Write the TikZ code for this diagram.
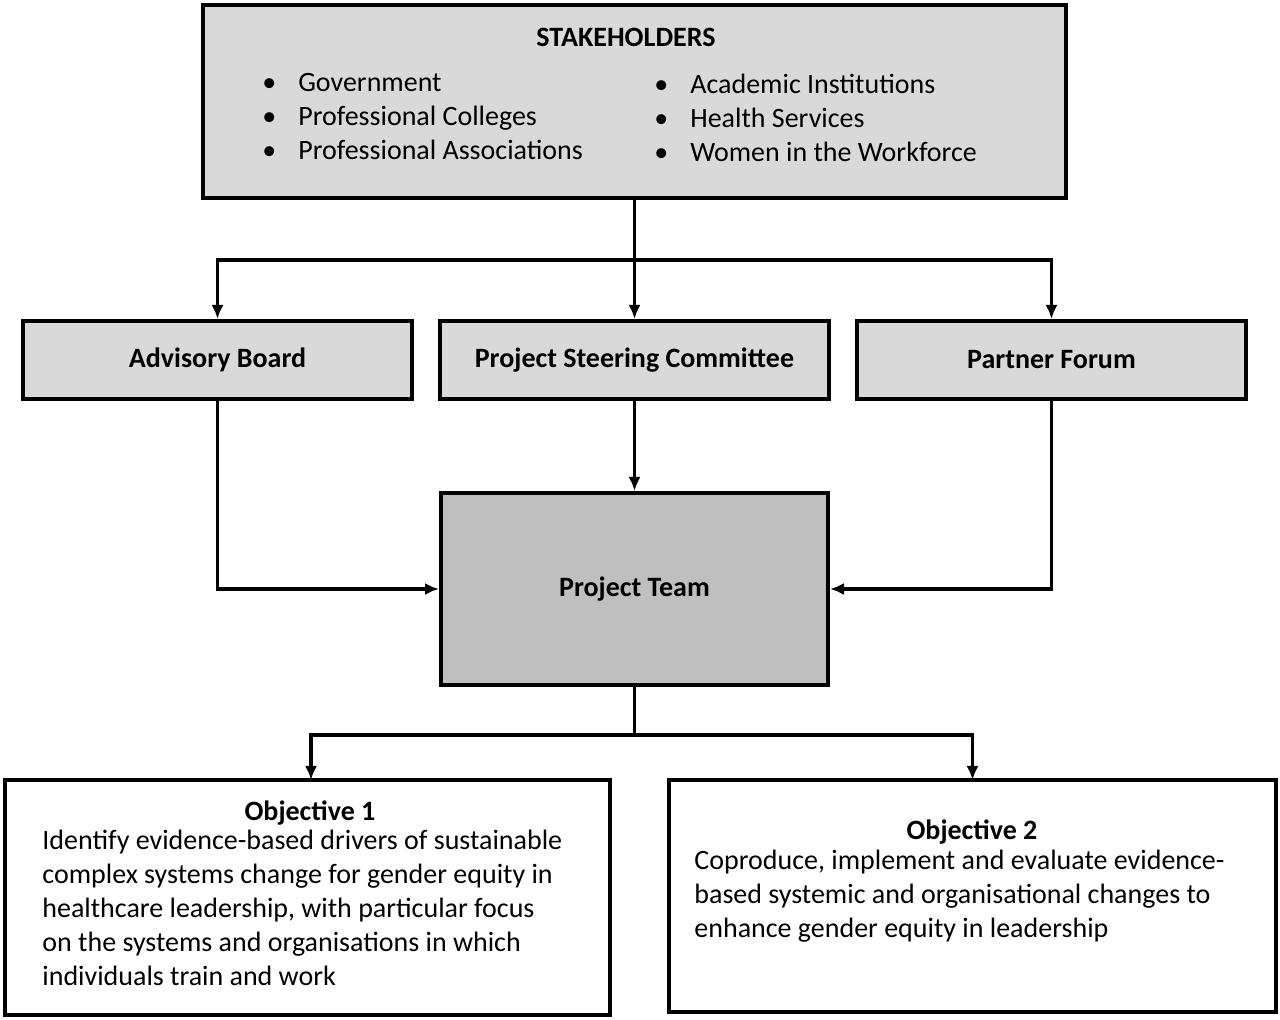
\documentclass[tikz,border=0pt]{standalone}
\usepackage{fontspec}
\setmainfont{Carlito}
\usetikzlibrary{arrows.meta}
\usetikzlibrary{positioning}
\definecolor{boxgray}{HTML}{D9D9D9}
\definecolor{teamgray}{HTML}{BFBFBF}
\begin{document}
\begin{tikzpicture}[
      x = 0.5pt, y = -0.5pt,
      >={Latex[length=7pt,width=6pt]},
      font = \fontsize{14}{17}\selectfont,
      box/.style = {
        draw = black, line width = 2pt, inner sep = 0pt
      },
      head/.style = { font = \fontsize{14}{17}\selectfont\bfseries },
      link/.style = { draw = black, line width = 1.8pt },
    ]
    \useasboundingbox (0,0) rectangle (1280,1020);

    % boxes
    \node[box, fill = boxgray, minimum width = 431.5pt, minimum height = 96.5pt] (stake) at (634.5,101.5) {};
    \node[box, fill = boxgray, minimum width = 194.5pt, minimum height = 39pt] (adv) at (217.5,360) {};
    \node[box, fill = boxgray, minimum width = 194.5pt, minimum height = 39pt] (psc) at (634.5,360) {};
    \node[box, fill = boxgray, minimum width = 194.5pt, minimum height = 39pt] (pf) at (1051.5,360) {};
    \node[box, fill = teamgray, minimum width = 193.5pt, minimum height = 96pt] (team) at (634.5,589) {};
    \node[box, fill = white, minimum width = 302.5pt, minimum height = 117.5pt] (obj1) at (307.5,897.5) {};
    \node[box, fill = white, minimum width = 303.5pt, minimum height = 116pt] (obj2) at (972.5,896) {};

    % texts
    \node[head] (stakeT) at (626,37) {STAKEHOLDERS};
    \node[anchor = north west, align = left, inner sep = 0pt] (stakeL) at (262,73)
      {\textbullet\hspace{11pt}Government\\ \textbullet\hspace{11pt}Professional Colleges\\ \textbullet\hspace{11pt}Professional Associations};
    \node[anchor = north west, align = left, inner sep = 0pt] (stakeR) at (654,74)
      {\textbullet\hspace{11pt}Academic Institutions\\ \textbullet\hspace{11pt}Health Services\\ \textbullet\hspace{11pt}Women in the Workforce};
    \node[head] (advT) at (adv) {Advisory Board};
    \node[head] (pscT) at (psc) {Project Steering Committee};
    \node[head] (pfT) at (pf) {Partner Forum};
    \node[head] (teamT) at (team) {Project Team};
    \node[head] (obj1T) at (310,813) {Objective 1};
    \node[anchor = north west, align = left, inner sep = 0pt] (obj1B) at (42,830)
      {Identify evidence-based drivers of sustainable\\ complex systems change for gender equity in\\ healthcare leadership, with particular focus\\ on the systems and organisations in which\\ individuals train and work};
    \node[head] (obj2T) at (972,832) {Objective 2};
    \node[anchor = north west, align = left, inner sep = 0pt] (obj2B) at (694,850)
      {Coproduce, implement and evaluate evidence-\\ based systemic and organisational changes to\\ enhance gender equity in leadership};

    % connectors
    \coordinate (split) at (634.5,260);
    \draw[link] (stake.south) -- (split);
    \draw[link, ->] (split) -| (adv.north);
    \draw[link, ->] (split) -| (pf.north);
    \draw[link, ->] (split) -- (psc.north);
    \draw[link, ->] (psc.south) -- (team.north);
    \draw[link, ->] (adv.south) |- (team.west);
    \draw[link, ->] (pf.south) |- (team.east);
    \coordinate (fork) at (634.5,735);
    \draw[link] (team.south) -- (fork);
    \draw[link, ->] (fork) -| (311,780);
    \draw[link, ->] (fork) -| (972.5,780);
\end{tikzpicture}
\end{document}
